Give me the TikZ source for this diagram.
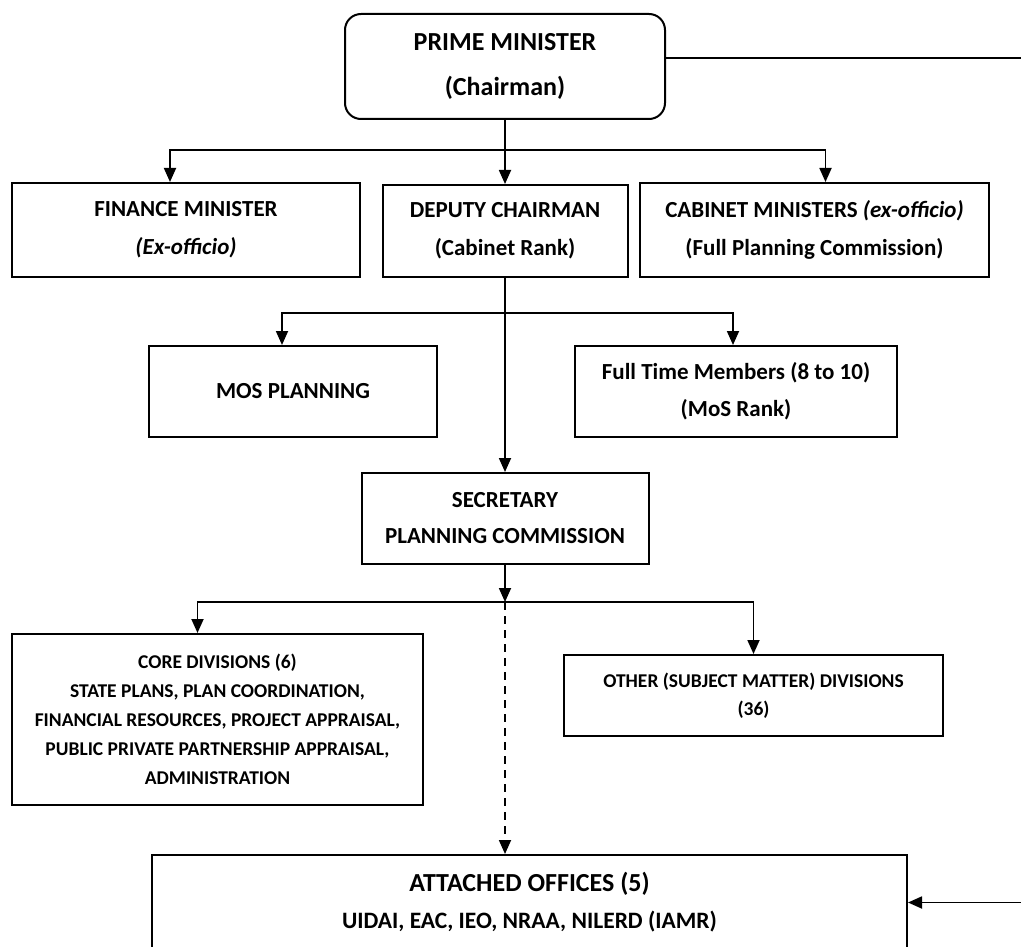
\documentclass[tikz,border=0pt]{standalone}
\usepackage{fontspec}
\setmainfont{Carlito}
\usetikzlibrary{arrows.meta}

\begin{document}
\begin{tikzpicture}[
                x=1pt, y=-1pt,
                line join=miter,
                orgbox/.style={shape=rectangle, draw=black, line width=2pt, align=center, inner sep=0pt, font=\bfseries\fontsize{23}{38}\selectfont},
                smallbox/.style={orgbox, font=\bfseries\fontsize{19.5}{29}\selectfont},
                link/.style={line width=1.8pt, -{Triangle[length=14pt, width=12pt]}}
                ]
                \useasboundingbox (0,0) rectangle (1021,947);
                \clip (0,0) rectangle (1021,947);

                %% Boxes
                \node[orgbox, rounded corners=16pt, minimum width=320pt, minimum height=105pt, font=\bfseries\fontsize{26}{45}\selectfont] (pm) at (505,66.5) {PRIME MINISTER\\(Chairman)};

                \node[orgbox, minimum width=348pt, minimum height=94pt] (finance) at (186,230) {FINANCE MINISTER\\\textit{(Ex-officio)}};
                \node[orgbox, minimum width=245pt, minimum height=92pt] (deputy) at (505,231) {DEPUTY CHAIRMAN\\(Cabinet Rank)};
                \node[orgbox, minimum width=349pt, minimum height=94pt] (cabinet) at (814.5,230) {CABINET MINISTERS \textit{(ex-officio)}\\(Full Planning Commission)};

                \node[orgbox, minimum width=288pt, minimum height=91pt] (mos) at (293,391.5) {MOS PLANNING};
                \node[orgbox, minimum width=322pt, minimum height=91pt, font=\bfseries\fontsize{23}{37}\selectfont] (fulltime) at (736,391.5) {Full Time Members (8 to 10)\\(MoS Rank)};

                \node[orgbox, minimum width=287pt, minimum height=91pt, font=\bfseries\fontsize{23}{36}\selectfont] (secretary) at (505,518.5) {SECRETARY\\PLANNING COMMISSION};

                \node[smallbox, minimum width=411pt, minimum height=171pt] (core) at (217.5,719.5) {CORE DIVISIONS (6)\\STATE PLANS, PLAN COORDINATION,\\FINANCIAL RESOURCES, PROJECT APPRAISAL,\\PUBLIC PRIVATE PARTNERSHIP APPRAISAL,\\ADMINISTRATION};
                \node[smallbox, minimum width=379pt, minimum height=81pt, font=\bfseries\fontsize{19.5}{28}\selectfont] (other) at (753.5,695.5) {OTHER (SUBJECT MATTER) DIVISIONS\\(36)};

                \node[orgbox, minimum width=755pt, minimum height=95pt, font=\bfseries\fontsize{23.5}{37}\selectfont] (attached) at (529.5,902.5) {{\fontsize{26}{37}\selectfont ATTACHED OFFICES (5)}\\UIDAI, EAC, IEO, NRAA, NILERD (IAMR)};

                % Junctions
                \coordinate (j1) at (505,150);
                \coordinate (j2) at (505,313);
                \coordinate (j3) at (505,602);
                \coordinate (turn) at (1060,58);

                %% Draws
                \draw[link] (pm.south) -- (deputy.north);
                \draw[link] (j1) -| ([xshift=-16pt]finance.north);
                \draw[link] (j1) -| ([xshift=11pt]cabinet.north);

                \draw[link] (deputy.south) -- (secretary.north);
                \draw[link] (j2) -| ([xshift=-11pt]mos.north);
                \draw[link] (j2) -| ([xshift=-3pt]fulltime.north);

                \draw[link] (secretary.south) -- (j3);
                \draw[link] (j3) -| ([xshift=-20pt]core.north);
                \draw[link] (j3) -| (other.north);
                \draw[link, dash pattern=on 8pt off 6pt] (j3) -- (j3 |- attached.north);

                \draw[link] (pm.east |- turn) -- (turn) |- (attached.east);
\end{tikzpicture}
\end{document}
